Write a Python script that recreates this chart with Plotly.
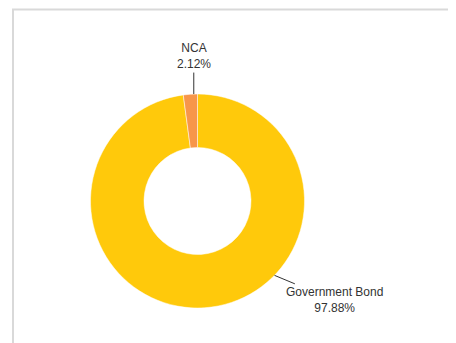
import math
import plotly.graph_objects as go

labels = ["Government Bond", "NCA"]
values = [97.88, 2.12]
colors = ["#FFC90B", "#F7964A"]

W, H = 448, 335          # figure size (page body has an 8px margin)
OFF = 8                  # page offset of the figure
cx, cy, R = 197.5 - OFF, 201.0 - OFF, 107.0  # pie centre / radius in pixels

fig = go.Figure(go.Pie(
    labels=labels, values=values, hole=0.5, sort=False,
    direction="clockwise", rotation=0,
    marker=dict(colors=colors, line=dict(color="white", width=0.5)),
    textinfo="none", showlegend=False,
    domain=dict(x=[(cx - R) / W, (cx + R) / W],
                y=[1 - (cy + R) / H, 1 - (cy - R) / H]),
))

# label placement: tip angle (degrees clockwise from top) and text offset
tip_angles = [134.0, -2.0]
offsets = [(60, 25), (0, -38)]
annotations = []
for lab, val, ang, (ax, ay) in zip(labels, values, tip_angles, offsets):
    a = math.radians(ang)
    tx = cx + R * math.sin(a)
    ty = cy - R * math.cos(a)
    annotations.append(dict(
        x=tx / W, y=1 - ty / H, xref="paper", yref="paper",
        text=f"{lab}<br>{val:.2f}%", showarrow=True, arrowhead=0,
        arrowwidth=1, arrowcolor="#333333", ax=ax, ay=ay,
        font=dict(family="Liberation Sans, Arial", size=12, color="#333333"),
        align="center", standoff=0, startstandoff=0,
    ))

fig.update_layout(
    width=W, height=H, margin=dict(l=0, r=0, t=0, b=0),
    paper_bgcolor="white", plot_bgcolor="white",
    annotations=annotations,
    shapes=[dict(type="rect", xref="paper", yref="paper",
                 x0=(13 - OFF) / W, x1=1.2, y0=-0.2, y1=1 - (9.5 - OFF) / H,
                 line=dict(color="#D9D9D9", width=2), fillcolor="rgba(0,0,0,0)")],
)

fig.write_html("out.html")
